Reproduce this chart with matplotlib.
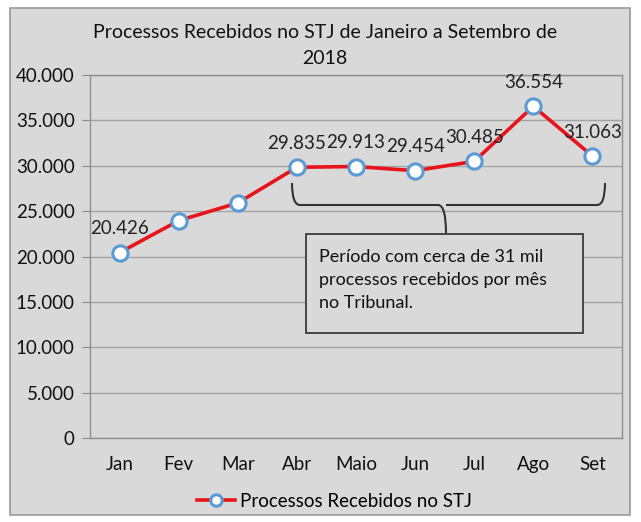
import matplotlib
matplotlib.use("Agg")
import matplotlib.pyplot as plt
from matplotlib.patches import Rectangle, PathPatch
from matplotlib.path import Path

# Data
months = ["Jan", "Fev", "Mar", "Abr", "Maio", "Jun", "Jul", "Ago", "Set"]
received = [20426, 23950, 25900, 29835, 29913, 29454, 30485, 36554, 31063]
labelled = [True, False, False, True, True, True, True, True, True]
yticks = [0, 5000, 10000, 15000, 20000, 25000, 30000, 35000, 40000]
ytick_labels = ["0", "5.000", "10.000", "15.000", "20.000", "25.000", "30.000", "35.000", "40.000"]

plt.rcParams['font.family'] = ['Lato', 'DejaVu Sans']
bg = "#d9d9d9"
W, H = 641, 522


def fy(y):
    return 1 - y / H


fig = plt.figure(figsize=(W / 100, H / 100), dpi=100)
fig.patch.set_facecolor("white")
# gray chart panel
fig.patches.append(Rectangle((10 / W, fy(515)), 620 / W, 507 / H, transform=fig.transFigure,
                             facecolor=bg, edgecolor="#9a9a9a", lw=1.2, zorder=-1))

ax = fig.add_axes([90 / W, fy(438), 532 / W, 363 / H])
ax.set_zorder(1)
ax.set_facecolor(bg)
x = list(range(len(months)))
ax.plot(x, received, color="#e8141c", lw=2.6, marker="o", ms=11, mfc="white",
        mec="#5b9bd5", mew=2.2, zorder=3, label="Processos Recebidos no STJ")
for xi, v, show in zip(x, received, labelled):
    if show:
        ax.annotate(f"{v/1000:.3f}", (xi, v), xytext=(0, 11), textcoords="offset points",
                    ha="center", va="bottom", fontsize=13.5, color="#222222")

ax.set_xlim(-0.5, len(months) - 0.5)
ax.set_ylim(0, 40000)
ax.set_yticks(yticks)
ax.set_yticklabels(ytick_labels)
ax.set_xticks(x)
ax.set_xticklabels(months)
ax.tick_params(axis="y", length=6, color="#8a8a8a", labelsize=13.5, pad=5, labelcolor="#111111")
ax.tick_params(axis="x", length=0, labelsize=13.5, pad=13, labelcolor="#111111")
ax.grid(axis="y", color="#a3a3a3", lw=1)
ax.set_axisbelow(True)
for s in ax.spines.values():
    s.set_color("#8f8f8f")
    s.set_linewidth(1)

fig.text(325 / W, fy(32), "Processos Recebidos no STJ de Janeiro a Setembro de",
         ha="center", va="center", fontsize=14, color="#111111")
fig.text(325 / W, fy(58), "2018", ha="center", va="center", fontsize=14, color="#111111")

# curly brace over Abr..Set (figure pixel coords, y measured from top)
xl, xr, xm = 292, 605, 446
ytop, ymid, ytip = 183, 205, 233
verts = [(xl, ytop), (xl, ymid), (xl + 8, ymid), (xm - 8, ymid), (xm, ymid), (xm, ytip),
         (xm, ymid), (xm + 8, ymid), (xr - 8, ymid), (xr, ymid), (xr, ytop)]
codes = [Path.MOVETO, Path.CURVE3, Path.CURVE3, Path.LINETO, Path.CURVE3, Path.CURVE3,
         Path.MOVETO, Path.CURVE3, Path.LINETO, Path.CURVE3, Path.CURVE3]
verts = [(vx / W, fy(vy)) for vx, vy in verts]
fig.patches.append(PathPatch(Path(verts, codes), transform=fig.transFigure, fill=False,
                             edgecolor="#333333", lw=1.5, zorder=5))

# annotation box
fig.patches.append(Rectangle((306 / W, fy(333)), 277 / W, 99 / H, transform=fig.transFigure,
                             facecolor=bg, edgecolor="#3a3a3a", lw=1.3, zorder=5))
for i, line in enumerate(["Período com cerca de 31 mil", "processos recebidos por mês",
                          "no Tribunal."]):
    fig.text(319 / W, fy(257 + 23 * i), line, ha="left", va="center", fontsize=13,
             color="#111111", zorder=6)

leg = ax.legend(loc="upper center", bbox_to_anchor=(0.46, -0.105), frameon=False,
                fontsize=13.5, handlelength=2.0, handletextpad=0.3, markerscale=0.75)

fig.savefig("out.png", dpi=100, facecolor=fig.get_facecolor())
